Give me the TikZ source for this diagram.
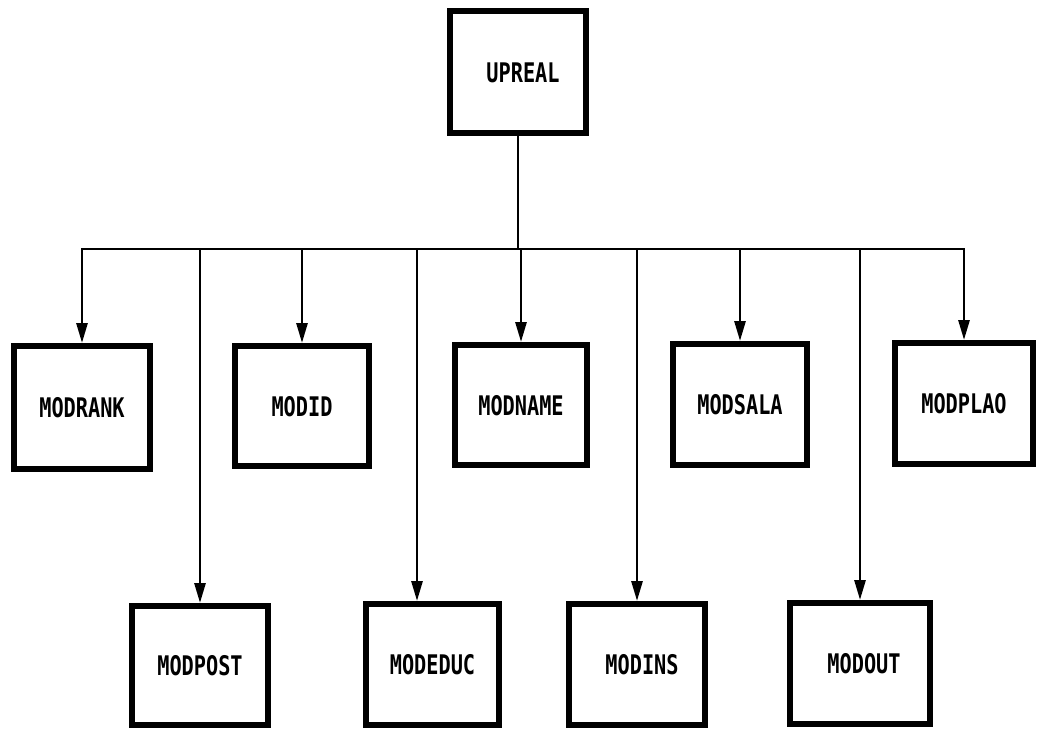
\documentclass[tikz,border=0pt]{standalone}
\usepackage{fontspec}
\newfontfamily\dotfont[FakeStretch=0.75]{DejaVu Sans Mono}
\usetikzlibrary{arrows.meta}
\begin{document}
\begin{tikzpicture}[x=1pt,y=-1pt,
  mod/.style={draw, line width=6pt, rectangle, inner sep=0pt,
    font=\dotfont\bfseries\fontsize{27}{30}\selectfont, text height=20pt, text depth=0pt},
  wire/.style={line width=2.8pt},
  feed/.style={wire, -{Triangle[length=20pt,width=11pt]}}]
\useasboundingbox (0,0) rectangle (1040,728);

\node[mod, minimum width=136pt, minimum height=122pt] (upreal) at (518,72) {\hspace*{10pt}UPREAL};

\node[mod, minimum width=136pt, minimum height=123pt] (modrank) at (82,407.5) {MODRANK};
\node[mod, minimum width=134pt, minimum height=120pt] (modid) at (302,406) {MODID};
\node[mod, minimum width=132pt, minimum height=120pt] (modname) at (521,405) {MODNAME};
\node[mod, minimum width=134pt, minimum height=121pt] (modsala) at (740,404.5) {MODSALA};
\node[mod, minimum width=138pt, minimum height=121pt] (modplao) at (964,403.5) {MODPLAO};

\node[mod, minimum width=136pt, minimum height=119pt] (modpost) at (200,665.5) {MODPOST};
\node[mod, minimum width=133pt, minimum height=121pt] (modeduc) at (432.5,664.5) {MODEDUC};
\node[mod, minimum width=136pt, minimum height=121pt] (modins) at (637,664.5) {\hspace*{10pt}MODINS};
\node[mod, minimum width=140pt, minimum height=121pt] (modout) at (860,663.5) {\hspace*{8pt}MODOUT};

\coordinate (bus) at (0,249);
\coordinate (educin) at ([xshift=-15.5pt]modeduc.north);

\draw[wire] (upreal.south) -- (upreal.south |- bus);
\draw[wire, line cap=rect] (modrank.north |- bus) -- (modplao.north |- bus);

\draw[feed] (modrank.north |- bus) -- (modrank.north);
\draw[feed] (modpost.north |- bus) -- (modpost.north);
\draw[feed] (modid.north |- bus) -- (modid.north);
\draw[feed] (educin |- bus) -- (educin);
\draw[feed] (modname.north |- bus) -- (modname.north);
\draw[feed] (modins.north |- bus) -- (modins.north);
\draw[feed] (modsala.north |- bus) -- (modsala.north);
\draw[feed] (modout.north |- bus) -- (modout.north);
\draw[feed] (modplao.north |- bus) -- (modplao.north);
\end{tikzpicture}
\end{document}
